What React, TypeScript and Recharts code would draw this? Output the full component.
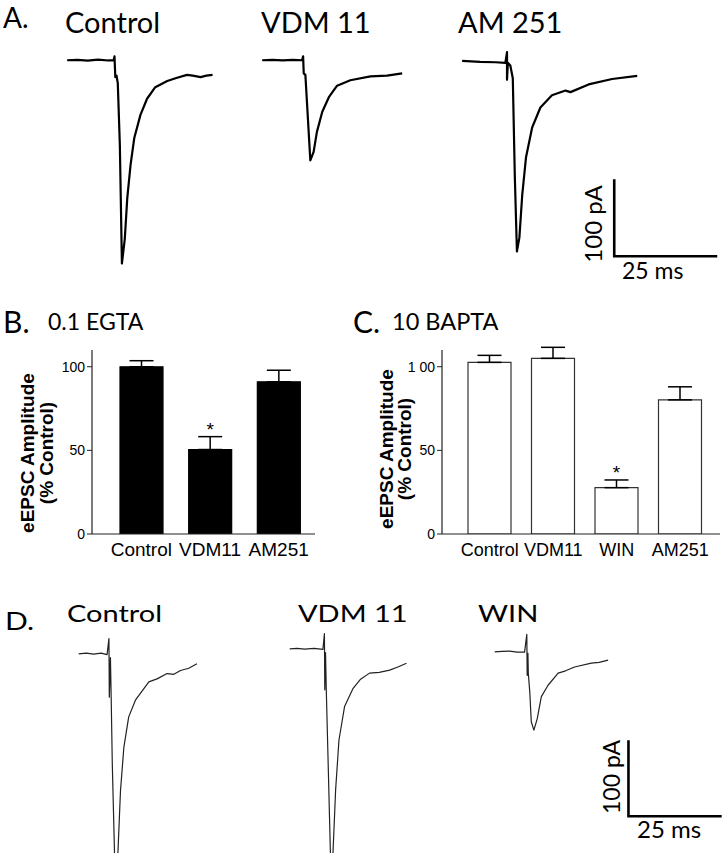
import React from "react";
import {
  LineChart,
  Line,
  XAxis,
  YAxis,
  BarChart,
  Bar,
  ErrorBar,
  LabelList,
} from "recharts";

type Pt = [number, number];

// ---------- Panel A traces: [time from trace start (ms), current (pA)] ----------
const traceAControl: Pt[] = [
  [0, 0], [2.5, 0.6], [5, -0.5], [7.5, 0.8], [10, -0.3], [11.3, 0],
  [11.5, 5], [11.7, -22], [12.0, -20], [12.3, -30], [12.8, -110],
  [13.3, -264], [14.0, -232], [14.6, -179], [15.4, -136], [16.3, -101],
  [17.8, -71], [19.4, -50], [21.4, -35], [24.3, -27], [26.5, -23],
  [29.1, -19], [30.5, -20], [32.4, -22], [33.8, -20], [35.3, -19],
];
const traceAVdm11: Pt[] = [
  [0, 0], [2.5, 0.5], [5, -0.3], [7.5, 0.4], [9.7, 0], [9.95, 5],
  [10.1, -17], [10.5, -19], [11.7, -130], [12.5, -119], [13.3, -93],
  [14.6, -67], [16.2, -48], [18.2, -33], [21.4, -26], [26.3, -21],
  [30.3, -20], [34.0, -17],
];
const traceAAm251: Pt[] = [
  [0, -1.3], [4.4, -2.6], [8.1, -3.2], [10.5, -3.9], [10.9, 10],
  [10.9, -26], [11.1, -4], [11.7, -7.4], [12.3, -24], [12.8, -153],
  [13.3, -249], [13.9, -231], [14.6, -175], [15.5, -127], [17.0, -88],
  [19.0, -62], [21.8, -46], [25.1, -40], [26.3, -42], [30.7, -32],
  [36.4, -25], [42.5, -21],
];

// ---------- Panel D traces ----------
const traceDControl: Pt[] = [
  [0, 0], [2, 1], [4, -0.5], [6, 1], [7.6, -1], [8.1, 20], [8.2, -57],
  [8.5, -5], [8.7, -57], [9.0, -145], [9.6, -263], [10.0, -300],
  [10.5, -263], [11.2, -180], [12.1, -123], [13.4, -83], [15.2, -61],
  [18.8, -37], [21.0, -33], [23.7, -26], [25.5, -27], [27.3, -22],
  [29.5, -19], [31.7, -13],
];
const traceDVdm11: Pt[] = [
  [0, 0], [2, 0.5], [4, -0.3], [6.5, 0.6], [8.9, -0.7], [9.3, 20],
  [9.4, -54], [9.6, -5], [9.8, -54], [10.3, -150], [10.9, -268],
  [11.3, -304], [11.6, -268], [12.3, -186], [13.2, -120], [14.7, -76],
  [17.0, -52], [19.0, -40], [21.4, -32], [24.0, -31], [26.8, -28],
  [29.0, -24], [31.3, -19],
];
const traceDWin: Pt[] = [
  [0, 0], [2, 0.5], [4, 1], [6, -0.5], [8, -0.4], [8.6, 23], [8.7, -31],
  [8.9, -2], [9.0, -28], [9.4, -53], [9.8, -92], [10.5, -103],
  [11.4, -88], [12.5, -59], [14.3, -44], [17.0, -28], [19.0, -25],
  [21.4, -20], [25.9, -15], [28.0, -14], [30.4, -11],
];

// ---------- Scale bars ----------
const scaleBarMs = 25;
const scaleBarPa = 100;

// ---------- Panel B (0.1 EGTA) ----------
const bCategories = ["Control", "VDM11", "AM251"];
const bValues = [100, 50.5, 91];
const bErrors = [3.6, 7.7, 6.9];
const bStars = ["", "*", ""];

// ---------- Panel C (10 BAPTA) ----------
const cCategories = ["Control", "VDM11", "WIN", "AM251"];
const cValues = [102.6, 105, 27.7, 80.2];
const cErrors = [4.2, 6.6, 4.6, 7.8];
const cStars = ["", "", "*", ""];

const yTicks = [0, 50, 100];
const bTickLabels = ["0", "50", "100"];
const cTickLabels = ["0", "50", "1 00"];

const TITLE_FONT = "Lato, 'Open Sans', sans-serif";
const AXIS_FONT = "'Liberation Sans', Arial, sans-serif";

function TraceChart(props: {
  trace: Pt[];
  x0: number;
  y0: number;
  pxMs: number;
  pxPa: number;
  yMin: number;
  yMax: number;
  tMax: number;
  color: string;
  sw: number;
}) {
  const { trace, x0, y0, pxMs, pxPa, yMin, yMax, tMax, color, sw } = props;
  const pad = 1;
  const data = trace.map(([t, i]) => ({ t, i }));
  const w = (tMax + 2 * pad) * pxMs;
  const h = (yMax - yMin) * pxPa;
  return (
    <div style={{ position: "absolute", left: x0 - pad * pxMs, top: y0 - yMax * pxPa }}>
      <LineChart width={w} height={h} data={data} margin={{ top: 0, right: 0, bottom: 0, left: 0 }}>
        <XAxis type="number" dataKey="t" domain={[-pad, tMax + pad]} hide allowDataOverflow />
        <YAxis type="number" domain={[yMin, yMax]} hide allowDataOverflow />
        <Line
          type="linear"
          dataKey="i"
          stroke={color}
          strokeWidth={sw}
          dot={false}
          isAnimationActive={false}
          strokeLinejoin="round"
        />
      </LineChart>
    </div>
  );
}

function ScaleBar(props: { x0: number; y0: number; pxMs: number; pxPa: number; sw: number }) {
  const { x0, y0, pxMs, pxPa, sw } = props;
  const data = [
    { t: 0, v: scaleBarPa },
    { t: 0, v: 0 },
    { t: scaleBarMs, v: 0 },
  ];
  const padT = 2;
  const padV = 3;
  const w = (scaleBarMs + 2 * padT) * pxMs;
  const h = (scaleBarPa + 2 * padV) * pxPa;
  return (
    <div style={{ position: "absolute", left: x0 - padT * pxMs, top: y0 - (scaleBarPa + padV) * pxPa }}>
      <LineChart width={w} height={h} data={data} margin={{ top: 0, right: 0, bottom: 0, left: 0 }}>
        <XAxis type="number" dataKey="t" domain={[-padT, scaleBarMs + padT]} hide />
        <YAxis type="number" domain={[-padV, scaleBarPa + padV]} hide />
        <Line
          type="linear"
          dataKey="v"
          stroke="#000"
          strokeWidth={sw}
          dot={false}
          isAnimationActive={false}
          strokeLinejoin="miter"
        />
      </LineChart>
    </div>
  );
}

function BarPanel(props: {
  left: number;
  top: number;
  width: number;
  height: number;
  yAxisWidth: number;
  marginRight: number;
  padL: number;
  padR: number;
  categories: string[];
  values: number[];
  errors: number[];
  stars: string[];
  tickLabels: string[];
  fill: string;
  stroke: string;
  catFont: number;
}) {
  const p = props;
  const data = p.categories.map((name, i) => ({
    name,
    value: p.values[i],
    err: [0, p.errors[i]],
    star: p.stars[i],
  }));
  const marginTop = 10;
  const xAxisH = 36;
  const plotH = p.height - marginTop - xAxisH;
  const pxPerUnit = plotH / 110;
  const renderStar = (lp: any) => {
    const { x, y, width, value, index } = lp;
    if (!value) return null;
    const errPx = p.errors[index] * pxPerUnit;
    return (
      <text
        x={Number(x) + Number(width) / 2}
        y={Number(y) - errPx - 1}
        textAnchor="middle"
        fontSize={19}
        fill="#000"
        fontFamily={AXIS_FONT}
      >
        {value}
      </text>
    );
  };
  return (
    <div style={{ position: "absolute", left: p.left, top: p.top }}>
      <BarChart
        width={p.width}
        height={p.height}
        data={data}
        margin={{ top: marginTop, right: p.marginRight, bottom: 0, left: 0 }}
      >
        <XAxis
          dataKey="name"
          height={xAxisH}
          axisLine={{ stroke: "#222", strokeWidth: 1.2 }}
          tickLine={false}
          interval={0}
          padding={{ left: p.padL, right: p.padR }}
          tick={{ fontSize: p.catFont, fill: "#000", fontFamily: AXIS_FONT }}
          tickMargin={3}
        />
        <YAxis
          type="number"
          domain={[0, 110]}
          ticks={yTicks}
          allowDataOverflow
          width={p.yAxisWidth}
          axisLine={{ stroke: "#222", strokeWidth: 1.2 }}
          tickLine={{ stroke: "#222" }}
          tickSize={5}
          tickMargin={2}
          tickFormatter={(v: number) => p.tickLabels[yTicks.indexOf(v)]}
          tick={{ fontSize: 14, fill: "#000", fontFamily: AXIS_FONT }}
        />
        <Bar
          dataKey="value"
          fill={p.fill}
          stroke={p.stroke}
          strokeWidth={1.2}
          barSize={43}
          isAnimationActive={false}
        >
          <ErrorBar dataKey="err" width={12} stroke="#000" strokeWidth={1.5} direction="y" />
          <LabelList dataKey="star" content={renderStar} />
        </Bar>
      </BarChart>
    </div>
  );
}

const A_PX_MS = 4.12;
const A_PX_PA = 0.77;
const D_PX_MS = 3.73;
const D_PX_PA = 0.76;

function squash(y: number, s: number) {
  return `translate(0 ${y}) scale(1 ${s}) translate(0 ${-y})`;
}

export default function App() {
  const titleStyle = { fontFamily: TITLE_FONT, fill: "#000" } as const;
  const ylab = { fontFamily: AXIS_FONT, fontWeight: 700, fontSize: 19, fill: "#000" } as const;
  return (
    <div
      style={{
        position: "absolute",
        left: 0,
        top: 0,
        width: 723,
        height: 853,
        overflow: "hidden",
        background: "#fff",
        fontFamily: AXIS_FONT,
      }}
    >
      {/* Panel A traces */}
      <TraceChart trace={traceAControl} x0={66.7} y0={60} pxMs={A_PX_MS} pxPa={A_PX_PA} yMin={-280} yMax={12} tMax={36} color="#000" sw={2.2} />
      <TraceChart trace={traceAVdm11} x0={261.7} y0={60} pxMs={A_PX_MS} pxPa={A_PX_PA} yMin={-280} yMax={12} tMax={35} color="#000" sw={2.2} />
      <TraceChart trace={traceAAm251} x0={461.7} y0={60} pxMs={A_PX_MS} pxPa={A_PX_PA} yMin={-280} yMax={14} tMax={43} color="#000" sw={2.2} />
      <ScaleBar x0={614} y0={256} pxMs={A_PX_MS} pxPa={A_PX_PA} sw={2.6} />

      {/* Panel B */}
      <BarPanel
        left={0}
        top={340}
        width={330}
        height={230}
        yAxisWidth={92}
        marginRight={15}
        padL={15}
        padR={2}
        categories={bCategories}
        values={bValues}
        errors={bErrors}
        stars={bStars}
        tickLabels={bTickLabels}
        fill="#000"
        stroke="#000"
        catFont={19}
      />

      {/* Panel C */}
      <BarPanel
        left={350}
        top={340}
        width={373}
        height={230}
        yAxisWidth={92}
        marginRight={3}
        padL={16}
        padR={8}
        categories={cCategories}
        values={cValues}
        errors={cErrors}
        stars={cStars}
        tickLabels={cTickLabels}
        fill="#fff"
        stroke="#333"
        catFont={18}
      />

      {/* Panel D traces */}
      <TraceChart trace={traceDControl} x0={78.3} y0={653.3} pxMs={D_PX_MS} pxPa={D_PX_PA} yMin={-320} yMax={30} tMax={32} color="#222" sw={1.2} />
      <TraceChart trace={traceDVdm11} x0={290} y0={649} pxMs={D_PX_MS} pxPa={D_PX_PA} yMin={-320} yMax={30} tMax={32} color="#222" sw={1.2} />
      <TraceChart trace={traceDWin} x0={495} y0={651.7} pxMs={D_PX_MS} pxPa={D_PX_PA} yMin={-320} yMax={30} tMax={31} color="#222" sw={1.2} />
      <ScaleBar x0={628.3} y0={816} pxMs={D_PX_MS} pxPa={D_PX_PA} sw={2.6} />

      {/* Text overlay */}
      <svg width={723} height={853} style={{ position: "absolute", left: 0, top: 0, pointerEvents: "none" }}>
        <text x={3} y={28} fontSize={28} {...titleStyle}>A.</text>
        <text x={65} y={33} fontSize={29} {...titleStyle}>Control</text>
        <text x={261} y={33} fontSize={29} {...titleStyle}>VDM 11</text>
        <text x={458} y={33} fontSize={29} {...titleStyle}>AM 251</text>
        <text x={602} y={224} fontSize={24} textAnchor="middle" transform="rotate(-90 602 224)" {...titleStyle}>100 pA</text>
        <text x={622} y={279} fontSize={23} {...titleStyle}>25 ms</text>

        <text x={3} y={333} fontSize={30} {...titleStyle}>B.</text>
        <text x={48} y={330} fontSize={23} {...titleStyle}>0.1 EGTA</text>
        <text x={353} y={333} fontSize={30} {...titleStyle}>C.</text>
        <text x={392} y={330} fontSize={23.5} {...titleStyle}>10 BAPTA</text>

        <text x={34} y={453} textAnchor="middle" transform="rotate(-90 34 453)" {...ylab}>eEPSC Amplitude</text>
        <text x={53} y={453} textAnchor="middle" transform="rotate(-90 53 453)" {...ylab}>(% Control)</text>
        <text x={393} y={449} textAnchor="middle" transform="rotate(-90 393 449)" {...ylab}>eEPSC Amplitude</text>
        <text x={411} y={449} textAnchor="middle" transform="rotate(-90 411 449)" {...ylab}>(% Control)</text>

        <g transform={squash(630, 0.82)}>
          <text x={5} y={630} fontSize={30} {...titleStyle}>D.</text>
        </g>
        <g transform={squash(622, 0.8)}>
          <text x={67} y={622} fontSize={29} {...titleStyle}>Control</text>
          <text x={298} y={622} fontSize={29} {...titleStyle}>VDM 11</text>
          <text x={478} y={622} fontSize={29} {...titleStyle}>WIN</text>
        </g>
        <text x={620} y={777} fontSize={23} textAnchor="middle" transform="rotate(-90 620 777)" {...titleStyle}>100 pA</text>
        <text x={637} y={838} fontSize={24} {...titleStyle}>25 ms</text>
      </svg>
    </div>
  );
}
